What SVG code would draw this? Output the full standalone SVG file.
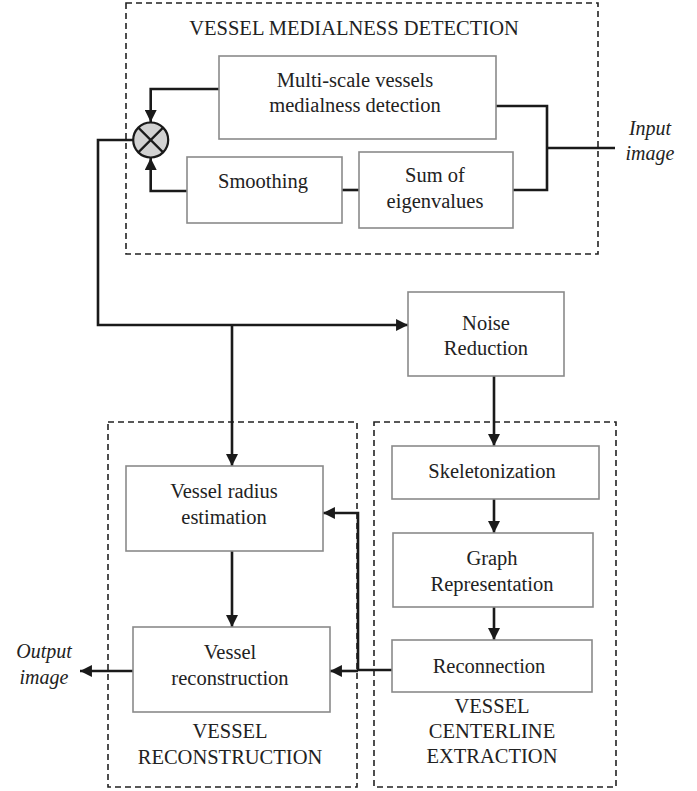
<svg xmlns="http://www.w3.org/2000/svg" width="697" height="791" viewBox="0 0 697 791">
<defs>
<style>
.box{fill:#fff;stroke:#8a8a8a;stroke-width:1.6}
.grp{fill:none;stroke:#222;stroke-width:1.6;stroke-dasharray:6,4}
.ln{fill:none;stroke:#1a1a1a;stroke-width:2.6}
.t{font-size:20.5px;fill:#222;text-anchor:middle}
.i{font-size:20px;fill:#222;font-style:italic;text-anchor:middle}
</style>
<marker id="ah" viewBox="0 0 10 10" refX="10" refY="5" markerWidth="4.6" markerHeight="4.6" orient="auto" markerUnits="strokeWidth">
<path d="M0,0 L10,5 L0,10 z" fill="#1a1a1a"/>
</marker>
</defs>
<rect width="697" height="791" fill="#fff"/>
<g id="groups">
<rect class="grp" x="126" y="3" width="472" height="251"/>
<rect class="grp" x="108" y="422" width="249" height="365"/>
<rect class="grp" x="374" y="422" width="242" height="365"/>
</g>
<g id="connectors">
<path class="ln" d="M219,89 H150.7 V122" marker-end="url(#ah)"/>
<path class="ln" d="M187,191 H150.7 V158" marker-end="url(#ah)"/>
<path class="ln" d="M342,190 H359"/>
<path class="ln" d="M496,106 H547 V190 H513"/>
<path class="ln" d="M547,148 H615"/>
<path class="ln" d="M133,140 H98 V325 H408" marker-end="url(#ah)"/>
<path class="ln" d="M232,325 V466" marker-end="url(#ah)"/>
<path class="ln" d="M494,376 V446" marker-end="url(#ah)"/>
<path class="ln" d="M494,499 V533" marker-end="url(#ah)"/>
<path class="ln" d="M494,607 V640" marker-end="url(#ah)"/>
<path class="ln" d="M392,670 H358 V513 H323" marker-end="url(#ah)"/>
<path class="ln" d="M358,671 H330" marker-end="url(#ah)"/>
<path class="ln" d="M232,551 V627" marker-end="url(#ah)"/>
<path class="ln" d="M133,671 H80" marker-end="url(#ah)"/>
</g>
<g font-family="Liberation Serif, Times New Roman, serif">
<g id="title-medialness"><text class="t" x="354" y="35">VESSEL MEDIALNESS DETECTION</text></g>
<g id="multiscale">
<rect class="box" x="219" y="56" width="277" height="83"/>
<text class="t" x="355" y="87">Multi-scale vessels</text>
<text class="t" x="355" y="112">medialness detection</text>
</g>
<g id="combiner">
<circle cx="150.7" cy="140" r="17.5" fill="#d2d2d2" stroke="#1a1a1a" stroke-width="2.2"/>
<path d="M138.3,127.6 L163.1,152.4 M163.1,127.6 L138.3,152.4" stroke="#1a1a1a" stroke-width="2.2"/>
</g>
<g id="smoothing">
<rect class="box" x="187" y="157" width="155" height="66"/>
<text class="t" x="263" y="188">Smoothing</text>
</g>
<g id="sum">
<rect class="box" x="359" y="152" width="154" height="76"/>
<text class="t" x="435" y="182">Sum of</text>
<text class="t" x="435" y="208">eigenvalues</text>
</g>
<g id="input"><text class="i" x="650" y="135">Input</text><text class="i" x="650" y="160">image</text></g>
<g id="noise">
<rect class="box" x="408" y="292" width="156" height="84"/>
<text class="t" x="486" y="330">Noise</text>
<text class="t" x="486" y="355">Reduction</text>
</g>
<g id="radius">
<rect class="box" x="126" y="466" width="197" height="85"/>
<text class="t" x="224" y="498">Vessel radius</text>
<text class="t" x="224" y="524">estimation</text>
</g>
<g id="reconstruction">
<rect class="box" x="133" y="627" width="197" height="85"/>
<text class="t" x="230" y="659">Vessel</text>
<text class="t" x="230" y="685">reconstruction</text>
</g>
<g id="title-reconstruction"><text class="t" x="230" y="738">VESSEL</text><text class="t" x="230" y="764">RECONSTRUCTION</text></g>
<g id="output"><text class="i" x="44" y="658">Output</text><text class="i" x="44" y="684">image</text></g>
<g id="skeleton">
<rect class="box" x="392" y="446" width="207" height="53"/>
<text class="t" x="492" y="478">Skeletonization</text>
</g>
<g id="graph">
<rect class="box" x="393" y="533" width="200" height="74"/>
<text class="t" x="492" y="565">Graph</text>
<text class="t" x="492" y="591">Representation</text>
</g>
<g id="reconnection">
<rect class="box" x="392" y="640" width="200" height="52"/>
<text class="t" x="489" y="673">Reconnection</text>
</g>
<g id="title-centerline"><text class="t" x="492" y="713">VESSEL</text><text class="t" x="492" y="738">CENTERLINE</text><text class="t" x="492" y="763">EXTRACTION</text></g>
</g>
</svg>
